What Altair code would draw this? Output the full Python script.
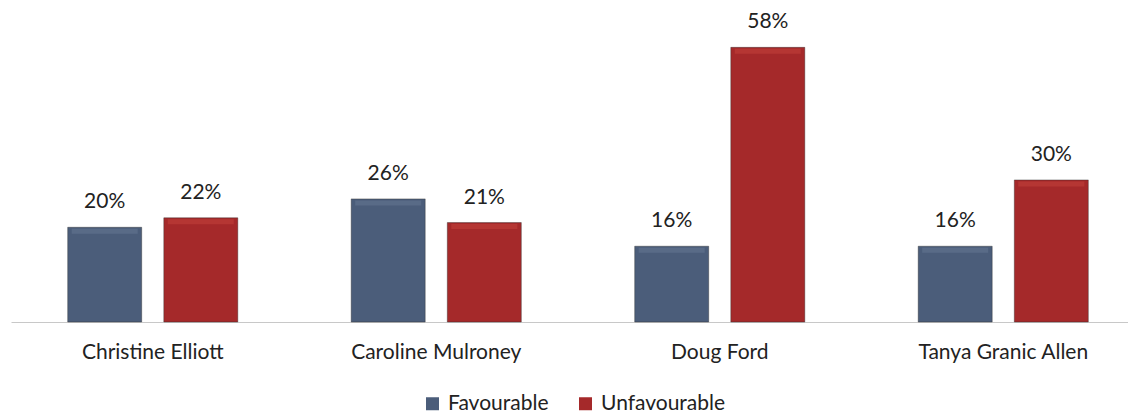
import altair as alt
import pandas as pd

candidates = ["Christine Elliott", "Caroline Mulroney", "Doug Ford", "Tanya Granic Allen"]
favourable = [20, 26, 16, 16]
unfavourable = [22, 21, 58, 30]
series = ["Favourable", "Unfavourable"]
colors = ["#4b5d7a", "#a5292a"]
highlights = ["#5d6f8b", "#b93a36"]

rows = []
for c, f, u in zip(candidates, favourable, unfavourable):
    rows.append({"cand": c, "series": "Favourable", "value": f, "label": f"{f}%"})
    rows.append({"cand": c, "series": "Unfavourable", "value": u, "label": f"{u}%"})
df = pd.DataFrame(rows)

font = "Lato"

x = alt.X("cand:N", sort=candidates, title=None,
          scale=alt.Scale(paddingInner=0.4, paddingOuter=0.2, range=[0, 1134]),
          axis=alt.Axis(labelAngle=0, labelFontSize=21, labelColor="#222", labelFont=font,
                        ticks=False, domainColor="#c8c8c8", domainWidth=1, labelPadding=19))
xo = alt.XOffset("series:N", sort=series,
                 scale=alt.Scale(paddingInner=0.23, paddingOuter=0))
y = alt.Y("value:Q", scale=alt.Scale(domain=[0, 68]), axis=None)

bars = alt.Chart(df).mark_bar(stroke="#2a2a2a", strokeOpacity=0.4, strokeWidth=1).encode(
    x=x, xOffset=xo, y=y,
    color=alt.Color("series:N", sort=series, scale=alt.Scale(domain=series, range=colors),
                    legend=alt.Legend(title=None, orient="none", direction="horizontal",
                                      legendX=411, legendY=393, symbolType="square",
                                      symbolSize=169, labelFontSize=21, labelFont=font,
                                      labelColor="#222", columnPadding=26, labelOffset=5,
                                      symbolStrokeWidth=0))
)

shine = alt.Chart(df).mark_tick(orient="horizontal", thickness=5, size=66, opacity=0.8).encode(
    x=x, xOffset=xo, y=y, yOffset=alt.value(4),
    color=alt.Color("series:N", sort=series, scale=alt.Scale(domain=series, range=highlights),
                    legend=None)
)

labels = alt.Chart(df).mark_text(dy=-25, fontSize=21, font=font, color="#222").encode(
    x=x, xOffset=xo, y=y, text="label:N"
)

chart = alt.layer(bars, shine, labels).resolve_scale(color="independent").properties(
    width=1117, height=322,
    autosize=alt.AutoSizeParams(type="none"),
    padding={"left": 11, "top": 0, "right": 0, "bottom": 95}
).configure(background="white").configure_view(stroke="transparent", strokeWidth=0)

chart.save("out.html", embed_options={"renderer": "svg", "actions": False})
